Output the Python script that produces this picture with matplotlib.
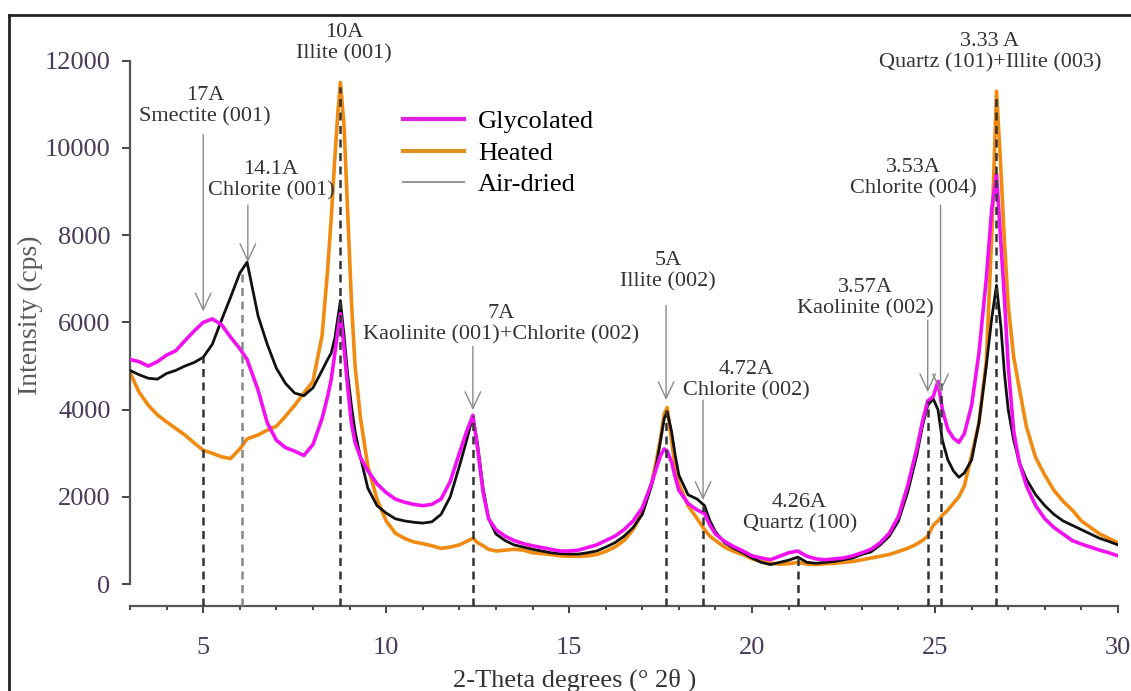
import matplotlib
matplotlib.use('Agg')
import matplotlib.pyplot as plt
from matplotlib.lines import Line2D

two_theta = [3.0, 3.25, 3.5, 3.75, 4.0, 4.25, 4.5, 4.75, 5.0, 5.25, 5.5, 5.75, 6.0, 6.2, 6.5, 6.75,
             7.0, 7.25, 7.5, 7.75, 8.0, 8.25, 8.4, 8.5, 8.6, 8.68, 8.75, 8.85, 8.95, 9.05, 9.15, 9.3,
             9.5, 9.75, 10.0, 10.25, 10.5, 10.75, 11.0, 11.25, 11.5, 11.75, 12.0, 12.2, 12.37, 12.5,
             12.65, 12.8, 13.0, 13.25, 13.5, 13.75, 14.0, 14.25, 14.5, 14.75, 15.0, 15.25, 15.5, 15.75,
             16.0, 16.25, 16.5, 16.75, 17.0, 17.25, 17.4, 17.5, 17.6, 17.68, 17.8, 17.9, 18.0, 18.25,
             18.5, 18.7, 18.85, 19.0, 19.25, 19.5, 19.75, 20.0, 20.25, 20.5, 20.75, 21.0, 21.25, 21.5,
             21.75, 22.0, 22.25, 22.5, 22.75, 23.0, 23.25, 23.5, 23.75, 24.0, 24.25, 24.5, 24.65, 24.8,
             24.95, 25.08, 25.2, 25.35, 25.5, 25.65, 25.8, 26.0, 26.2, 26.4, 26.55, 26.68, 26.8, 26.9,
             27.0, 27.15, 27.3, 27.5, 27.75, 28.0, 28.25, 28.5, 28.75, 29.0, 29.25, 29.5, 29.75, 30.0]

glycolated = [5150, 5100, 5000, 5100, 5250, 5350, 5580, 5800, 6000, 6080, 5950, 5660, 5400, 5150, 4450, 3700,
              3300, 3130, 3050, 2950, 3200, 3800, 4300, 4700, 5300, 5800, 6200, 5400, 4500, 3700, 3250, 2900,
              2600, 2300, 2100, 1950, 1880, 1830, 1800, 1830, 1950, 2350, 3000, 3500, 3870, 3100,
              2100, 1500, 1250, 1100, 1000, 930, 880, 840, 800, 760, 760, 780, 840, 900,
              1000, 1100, 1250, 1450, 1750, 2300, 2700, 2950, 3100, 3050, 2800, 2450, 2150, 1850,
              1700, 1620, 1350, 1150, 980, 860, 760, 650, 600, 560, 640, 720, 760, 640,
              580, 560, 580, 600, 650, 720, 800, 950, 1170, 1550, 2250, 3100, 3700, 4200,
              4300, 4650, 4000, 3550, 3350, 3250, 3450, 4100, 5300, 7000, 8600, 9400, 7800, 6500,
              5000, 3500, 2800, 2250, 1800, 1500, 1300, 1150, 1000, 920, 850, 780, 720, 650]

heated = [4850, 4400, 4100, 3880, 3720, 3570, 3420, 3240, 3070, 3000, 2920, 2880, 3100, 3330, 3420, 3530,
          3620, 3850, 4100, 4380, 4650, 5700, 7200, 8400, 9800, 10800, 11500, 10500, 8500, 6500, 5000, 3800,
          2700, 1950, 1450, 1170, 1050, 970, 930, 880, 820, 850, 900, 980, 1050, 950,
          880, 800, 760, 780, 800, 780, 720, 700, 680, 650, 640, 640, 650, 680,
          750, 850, 1000, 1250, 1650, 2300, 2900, 3350, 3900, 4050, 3300, 2700, 2300, 1800,
          1500, 1250, 1100, 1000, 850, 750, 680, 580, 520, 480, 460, 470, 500, 460,
          450, 470, 480, 500, 520, 560, 600, 640, 680, 750, 820, 920, 1000, 1100,
          1350, 1450, 1580, 1700, 1850, 2000, 2250, 2950, 3700, 5100, 8000, 11300, 9500, 7800,
          6400, 5200, 4500, 3600, 2900, 2500, 2150, 1900, 1700, 1450, 1300, 1150, 1050, 950]

air_dried = [4900, 4800, 4720, 4700, 4830, 4900, 5000, 5080, 5200, 5500, 6050, 6580, 7130, 7380, 6150, 5500,
             4950, 4600, 4380, 4320, 4500, 4900, 5150, 5300, 5650, 6100, 6500, 5700, 4800, 4100, 3500, 2900,
             2200, 1800, 1630, 1500, 1450, 1420, 1400, 1430, 1600, 2000, 2700, 3300, 3850, 3200,
             2200, 1500, 1150, 1000, 900, 850, 800, 760, 720, 700, 690, 690, 720, 760,
             850, 950, 1100, 1300, 1600, 2250, 2800, 3300, 3800, 3950, 3500, 2950, 2500, 2050,
             1950, 1800, 1450, 1200, 950, 820, 720, 600, 500, 450, 500, 550, 620, 500,
             480, 500, 520, 560, 600, 680, 740, 900, 1100, 1450, 2100, 2950, 3600, 4100,
             4250, 4000, 3300, 2850, 2600, 2450, 2550, 2850, 3700, 5000, 6100, 6850, 5900, 4800,
             4000, 3300, 2800, 2400, 2050, 1800, 1600, 1450, 1350, 1250, 1150, 1050, 980, 900]

# reflection positions (deg 2theta) and height of the marker line
peak_pos = [5.0, 6.06, 8.74, 12.37, 17.65, 18.66, 21.25, 24.8, 25.15, 26.66]
peak_top = [5200, 7200, 11400, 3850, 4000, 1800, 700, 4200, 4600, 11200]

peak_labels = ['17A\nSmectite (001)', '14.1A\nChlorite (001)', '10A\nIllite (001)',
               '7A\nKaolinite (001)+Chlorite (002)', '5A\nIllite (002)', '4.72A\nChlorite (002)',
               '4.26A\nQuartz (100)', '3.57A\nKaolinite (002)', '3.53A\nChlorite (004)',
               '3.33 A\nQuartz (101)+Illite (003)']

plt.rcParams['font.family'] = ['Liberation Serif', 'DejaVu Serif']

fig = plt.figure(figsize=(11.31, 6.91), dpi=100)
ax = fig.add_axes([130 / 1131, 1 - 606 / 691, 988 / 1131, 589 / 691])

ax.plot(two_theta, heated, color='#F08A10', lw=2.6, zorder=2)
ax.plot(two_theta, air_dried, color='#111111', lw=2.0, zorder=3)
ax.plot(two_theta, glycolated, color='#F010F0', lw=2.6, zorder=4)

# dashed marker lines from axis up to the peaks
for i, (p, t) in enumerate(zip(peak_pos, peak_top)):
    c = '#888888' if i == 1 else '#333333'
    ax.plot([p, p], [-500, t], color=c, lw=1.8, dashes=(3.2, 2.2), zorder=5)

# labels: (x, y) of text centre, arrow x, arrow start, arrow tip
label_place = [(5.05, 10950, 5.0, 10300, 6250),
               (6.85, 9260, 6.22, 8690, 7380),
               (8.85, 12400, None, None, None),
               (13.15, 5960, 12.37, 5450, 3990),
               (17.7, 7170, 17.65, 6390, 4220),
               (19.85, 4680, 18.66, 4220, 1930),
               (21.3, 1620, None, None, None),
               (23.1, 6550, 24.8, 6050, 4400),
               (24.42, 9300, 25.15, 8690, 4400),
               (26.5, 12200, None, None, None)]
for txt, (tx, ty, axx, a0, a1) in zip(peak_labels, label_place):
    ax.text(tx, ty, txt, ha='center', va='center', fontsize=16, color='#333333',
            linespacing=1.15, zorder=6)
    if axx is not None:
        ax.annotate('', xy=(axx, a1), xytext=(axx, a0),
                    arrowprops=dict(arrowstyle='->,head_length=0.6,head_width=0.28',
                                    color='#8a8a8a', lw=1.0, mutation_scale=20,
                                    shrinkA=0, shrinkB=0), zorder=6)

ax.set_xlim(3, 30)
ax.set_ylim(-500, 13000)
ax.set_xticks([5, 10, 15, 20, 25, 30])
ax.set_xticks(range(3, 31), minor=True)
ax.set_yticks([0, 2000, 4000, 6000, 8000, 10000, 12000])

for s in ['top', 'right']:
    ax.spines[s].set_visible(False)
ax.spines['left'].set_bounds(0, 12000)
ax.spines['bottom'].set_bounds(3, 30)
for s in ['left', 'bottom']:
    ax.spines[s].set_color('#555555')
    ax.spines[s].set_linewidth(1.6)

ax.tick_params(axis='y', direction='out', length=6, width=1.4, color='#444444',
               labelsize=19, labelcolor='#4a3a5a', pad=8)
ax.tick_params(axis='x', which='major', direction='out', length=5, width=1.4, color='#444444',
               labelsize=19, labelcolor='#4a3a5a', pad=17)
ax.tick_params(axis='x', which='minor', direction='out', length=3, width=1.4, color='#444444')

fig.text(30 / 1131, 1 - 315 / 691, 'Intensity (cps)', rotation=90, ha='center', va='center',
         fontsize=20, color='#5a5a5a')
fig.text(575 / 1131, 1 - 680 / 691, '2-Theta degrees (\u00b0 2\u03b8 )', ha='center', va='center',
         fontsize=19, color='#333333')

handles = [Line2D([], [], color='#E020E0', lw=3),
           Line2D([], [], color='#E09020', lw=3),
           Line2D([], [], color='#999999', lw=1.5)]
ax.legend(handles, ['Glycolated', 'Heated', 'Air-dried'], loc='upper left',
          bbox_to_anchor=(403 / 1131, 1 - 110 / 691), bbox_transform=fig.transFigure,
          frameon=False, fontsize=19, handlelength=2.3, handletextpad=0.55,
          labelspacing=0.3, borderpad=0, borderaxespad=0)

# outer frame (left and top edge of the cropped figure)
fig.add_artist(Line2D([9 / 1131, 9 / 1131], [0, 1 - 15 / 691], transform=fig.transFigure,
                      color='#222222', lw=2))
fig.add_artist(Line2D([9 / 1131, 1], [1 - 15 / 691, 1 - 15 / 691], transform=fig.transFigure,
                      color='#222222', lw=2))

fig.savefig('out.png', dpi=100, facecolor='white')
